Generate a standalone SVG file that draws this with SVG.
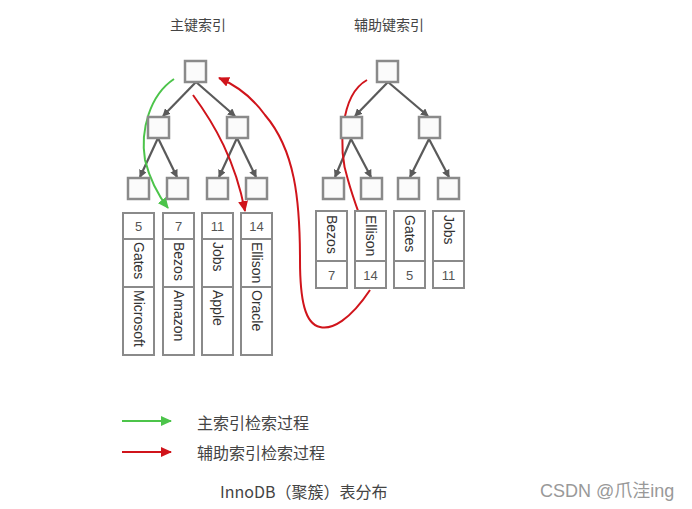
<svg xmlns="http://www.w3.org/2000/svg" width="692" height="509" viewBox="0 0 692 509">
<style>
.box{fill:#fbfbfb;stroke:#8a8a8a;stroke-width:2.5}
.cell{fill:#fff;stroke:#8a8a8a;stroke-width:2}
.edge{stroke:#5a5a5a;stroke-width:2.2;fill:none;marker-end:url(#ah)}
.num{font-family:"Liberation Sans",Arial,sans-serif;font-size:13px;fill:#555;text-anchor:middle;dominant-baseline:central}
.nm{font-family:"Liberation Sans",Arial,sans-serif;font-size:14px;fill:#333;dominant-baseline:central}
.t{font-family:"Noto Sans CJK SC","Liberation Sans",sans-serif;font-size:14px;fill:#444}
.lg{font-family:"Noto Sans CJK SC","Liberation Sans",sans-serif;font-size:16px;fill:#444}
.red{stroke:#d0141b;stroke-width:2;fill:none;marker-end:url(#ar)}
.green{stroke:#4cc44a;stroke-width:2;fill:none;marker-end:url(#ag)}
</style>
<defs>
<marker id="ah" markerWidth="8" markerHeight="8" refX="7" refY="4" orient="auto" markerUnits="userSpaceOnUse"><path d="M0,0 L8,4 L0,8 z" fill="#5a5a5a"/></marker>
<marker id="ar" markerWidth="11" markerHeight="10" refX="10" refY="5" orient="auto" markerUnits="userSpaceOnUse"><path d="M0,0 L11,5 L0,10 z" fill="#d0141b"/></marker>
<marker id="ag" markerWidth="11" markerHeight="10" refX="10" refY="5" orient="auto" markerUnits="userSpaceOnUse"><path d="M0,0 L11,5 L0,10 z" fill="#4cc44a"/></marker>
</defs>
<rect width="692" height="509" fill="#fff"/>
<text class="t" x="170" y="30">主键索引</text>
<text class="t" x="354" y="30">辅助键索引</text>

<g id="connectors">
<path class="edge" d="M196,82 L163,116"/>
<path class="edge" d="M196,82 L235,116"/>
<path class="edge" d="M158,138 L140,177"/>
<path class="edge" d="M158,138 L177,177"/>
<path class="edge" d="M237,138 L219,177"/>
<path class="edge" d="M237,138 L256,177"/>
<path class="edge" d="M388,82 L355,116"/>
<path class="edge" d="M388,82 L428,116"/>
<path class="edge" d="M351,139 L335,177"/>
<path class="edge" d="M351,139 L371,177"/>
<path class="edge" d="M429,139 L410,177"/>
<path class="edge" d="M429,139 L449,177"/>
<path class="green" d="M174,79 C150,95 140,130 145,160 C150,180 158,195 168,208"/>
<path class="red" d="M193,95 C215,125 235,160 245,211"/>
<path class="red" d="M370,290 C350,320 332,330 320,327 C305,324 300,300 300,260 C300,200 295,150 265,115 C252,97 238,86 219,78"/>
<path class="red" d="M367,80 C340,95 338,150 348,180 C355,205 362,220 367,238"/>
</g>

<g id="pk-root"><rect class="box" x="185" y="61" width="21" height="21"/></g>
<g id="pk-l"><rect class="box" x="148" y="117" width="21" height="21"/></g>
<g id="pk-r"><rect class="box" x="227" y="117" width="21" height="21"/></g>
<g id="pk-ll"><rect class="box" x="128" y="178" width="21" height="21"/></g>
<g id="pk-lr"><rect class="box" x="167" y="178" width="21" height="21"/></g>
<g id="pk-rl"><rect class="box" x="207" y="178" width="21" height="21"/></g>
<g id="pk-rr"><rect class="box" x="246" y="178" width="21" height="21"/></g>

<g id="sk-root"><rect class="box" x="377" y="61" width="21" height="21"/></g>
<g id="sk-l"><rect class="box" x="341" y="117" width="21" height="21"/></g>
<g id="sk-r"><rect class="box" x="419" y="117" width="21" height="21"/></g>
<g id="sk-ll"><rect class="box" x="323" y="178" width="21" height="21"/></g>
<g id="sk-lr"><rect class="box" x="361" y="178" width="21" height="21"/></g>
<g id="sk-rl"><rect class="box" x="398" y="178" width="21" height="21"/></g>
<g id="sk-rr"><rect class="box" x="438" y="178" width="21" height="21"/></g>

<g id="row-5">
<rect class="cell" x="123" y="213" width="31" height="26"/><rect class="cell" x="123" y="239" width="31" height="48"/><rect class="cell" x="123" y="287" width="31" height="68"/>
<text class="num" x="138.5" y="226">5</text>
<text class="nm" transform="translate(138.5,242) rotate(90)">Gates</text>
<text class="nm" transform="translate(138.5,290) rotate(90)">Microsoft</text>
</g>
<g id="row-7">
<rect class="cell" x="163" y="213" width="31" height="26"/><rect class="cell" x="163" y="239" width="31" height="48"/><rect class="cell" x="163" y="287" width="31" height="68"/>
<text class="num" x="178.5" y="226">7</text>
<text class="nm" transform="translate(178.5,242) rotate(90)">Bezos</text>
<text class="nm" transform="translate(178.5,290) rotate(90)">Amazon</text>
</g>
<g id="row-11">
<rect class="cell" x="202" y="213" width="31" height="26"/><rect class="cell" x="202" y="239" width="31" height="48"/><rect class="cell" x="202" y="287" width="31" height="68"/>
<text class="num" x="217.5" y="226">11</text>
<text class="nm" transform="translate(217.5,242) rotate(90)">Jobs</text>
<text class="nm" transform="translate(217.5,290) rotate(90)">Apple</text>
</g>
<g id="row-14">
<rect class="cell" x="241" y="213" width="31" height="26"/><rect class="cell" x="241" y="239" width="31" height="48"/><rect class="cell" x="241" y="287" width="31" height="68"/>
<text class="num" x="256.5" y="226">14</text>
<text class="nm" transform="translate(256.5,242) rotate(90)">Ellison</text>
<text class="nm" transform="translate(256.5,290) rotate(90)">Oracle</text>
</g>

<g id="sk-bezos">
<rect class="cell" x="316" y="211" width="31" height="50"/><rect class="cell" x="316" y="261" width="31" height="27"/>
<text class="nm" transform="translate(331.5,215) rotate(90)">Bezos</text>
<text class="num" x="331.5" y="275">7</text>
</g>
<g id="sk-ellison">
<rect class="cell" x="355" y="211" width="31" height="50"/><rect class="cell" x="355" y="261" width="31" height="27"/>
<text class="nm" transform="translate(370.5,215) rotate(90)">Ellison</text>
<text class="num" x="370.5" y="275">14</text>
</g>
<g id="sk-gates">
<rect class="cell" x="394" y="211" width="31" height="50"/><rect class="cell" x="394" y="261" width="31" height="27"/>
<text class="nm" transform="translate(409.5,215) rotate(90)">Gates</text>
<text class="num" x="409.5" y="275">5</text>
</g>
<g id="sk-jobs">
<rect class="cell" x="433" y="211" width="31" height="50"/><rect class="cell" x="433" y="261" width="31" height="27"/>
<text class="nm" transform="translate(448.5,215) rotate(90)">Jobs</text>
<text class="num" x="448.5" y="275">11</text>
</g>

<g id="legend">
<path class="green" d="M122,421 L171,421"/>
<path class="red" d="M122,452 L171,452"/>
<text class="lg" x="197" y="429">主索引检索过程</text>
<text class="lg" x="197" y="459">辅助索引检索过程</text>
<text class="lg" x="220" y="498">InnoDB（聚簇）表分布</text>
</g>
<text x="540" y="497" style="font-family:'Liberation Sans','Noto Sans CJK SC',sans-serif;font-size:18px;fill:#999">CSDN @爪洼ing</text>
</svg>
